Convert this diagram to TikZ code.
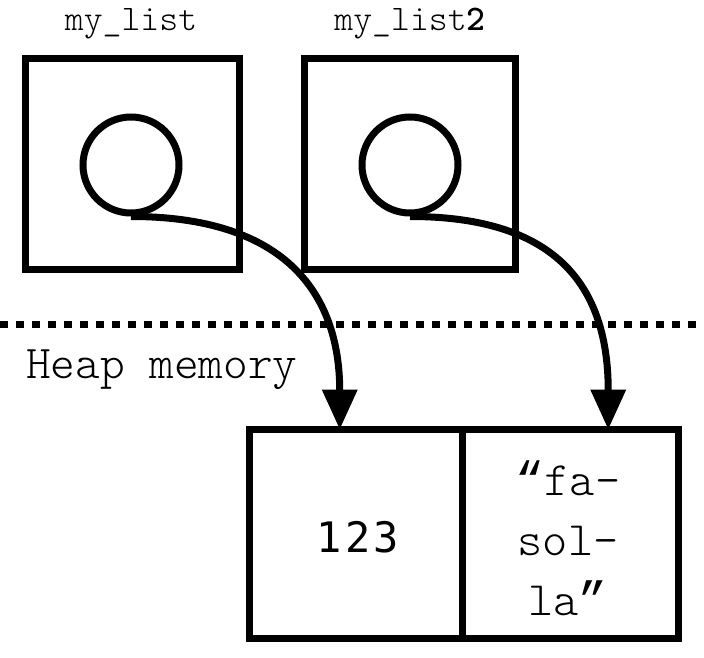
\documentclass[tikz,border=0pt]{standalone}
\usepackage{fontspec}
\newfontfamily\digitfont[LetterSpace=8]{DejaVu Sans Mono}
\newfontfamily\quotefont{Liberation Mono}
\newfontfamily\lightmono{Latin Modern Mono Light}
\usetikzlibrary{arrows.meta}
\begin{document}
\begin{tikzpicture}[x=1pt,y=-1pt,
  box/.style={draw,line width=7pt,rectangle,inner sep=0pt,outer sep=0pt},
  ring/.style={draw,line width=7pt,circle,minimum size=96pt,inner sep=0pt},
  lbl/.style={font=\lightmono\fontsize{36}{40}\selectfont,inner sep=0pt},
  heap/.style={font=\lightmono\fontsize{47}{50}\selectfont,inner sep=0pt},
  ptr/.style={line width=7pt,-{Triangle[width=34pt,length=40pt]}}]
\useasboundingbox (0,0) rectangle (704,658);
% stack variables
\node[box,minimum width=214pt,minimum height=211pt] (box1) at (132,164) {};
\node[box,minimum width=211pt,minimum height=211pt] (box2) at (410,164) {};
\node[ring] (circ1) at (131,165) {};
\node[ring] (circ2) at (410,165) {};
\node[lbl] (name1) at (131,24) {my\_list};
\node[lbl] (name2) at (410,24) {my\_list{\ttfamily\bfseries 2}};
% boundary
\coordinate (lineL) at (0,324);
\coordinate (lineR) at (704,324);
\draw[line width=7pt,dash pattern=on 8pt off 8pt] (lineL) -- (lineR);
\node[heap,anchor=west] (heaplbl) at (26,370) {Heap memory};
% heap cells
\node[box,minimum width=212.5pt,minimum height=209pt] (cell1) at (355.75,534) {};
\node[box,minimum width=216.5pt,minimum height=209pt] (cell2) at (570.25,534) {};
\node[font=\digitfont\fontsize{42}{46}\selectfont,inner sep=0pt] (val1) at (358,537) {123};
\node[align=center,inner sep=0pt,font=\lightmono\fontsize{48}{60}\selectfont] (val2) at (568,538) {{\quotefont“}fa-\\sol-\\la{\quotefont”}};
% pointers
\draw[ptr] (circ1.south) .. controls +(150,0) and +(0,-140) .. ([xshift=-16pt]cell1.north);
\draw[ptr] (circ2.south) .. controls +(150,0) and +(0,-140) .. ([xshift=38pt]cell2.north);
\end{tikzpicture}
\end{document}
